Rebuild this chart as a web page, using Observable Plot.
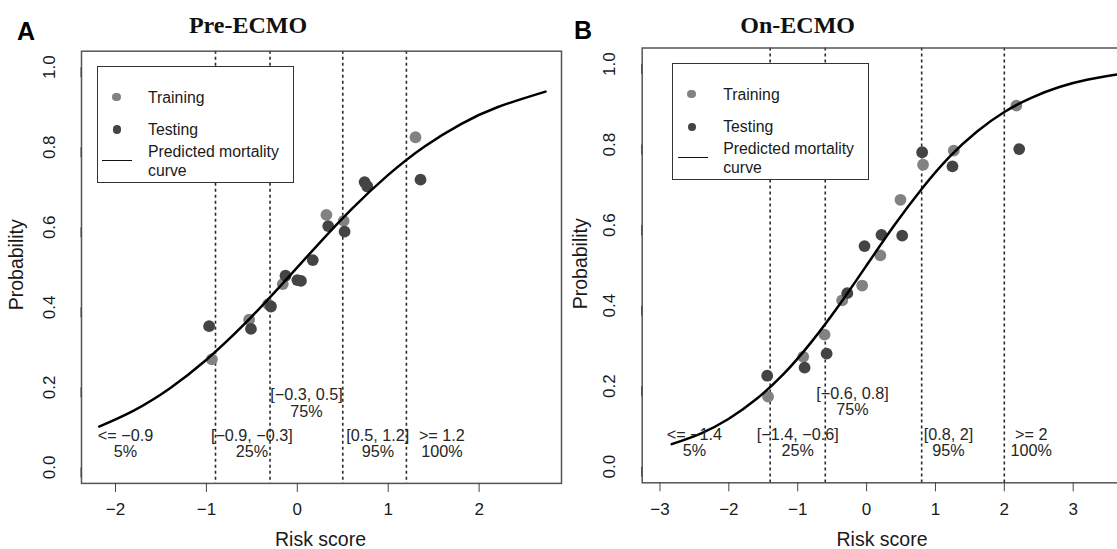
<!DOCTYPE html>
<html><head><meta charset="utf-8">
<script src="https://cdn.jsdelivr.net/npm/d3@7"></script>
<script src="https://cdn.jsdelivr.net/npm/@observablehq/plot@0.6"></script>
<style>
body{margin:0;background:#fff;}
#wrap{position:relative;width:1117px;height:549px;overflow:hidden;background:#fff;font-family:"Liberation Sans",Arial,sans-serif;color:#222;}
.abs{position:absolute;white-space:nowrap;line-height:1;}
.title{font-family:"Liberation Serif","Times New Roman",serif;font-weight:bold;font-size:24px;color:#111;text-align:center;width:240px;}
.letter{font-weight:bold;font-size:25px;color:#000;}
.axlab{font-size:19.5px;color:#1a1a1a;text-align:center;width:300px;}
.legend{position:absolute;box-sizing:border-box;border:1.3px solid #333;background:#fff;width:197px;height:117px;}
.legend .dot{position:absolute;width:8.5px;height:8.5px;border-radius:50%;}
.legend .txt{position:absolute;font-size:15.8px;line-height:1;white-space:nowrap;color:#1a1a1a;}
.legend .ln{position:absolute;height:0;width:30px;border-top:1.5px solid #111;}
svg{position:absolute;}
</style></head><body><div id="wrap"></div>
<script>
// ---------- data ----------
const panelTitles = ["Pre-ECMO", "On-ECMO"];
const panelLetters = ["A", "B"];
const seriesNames = ["Training", "Testing", "Predicted mortality\ncurve"];
const yTicks = [0, 0.2, 0.4, 0.6, 0.8, 1.0];
const xTicksA = [-2, -1, 0, 1, 2];
const xTicksB = [-3, -2, -1, 0, 1, 2, 3];

// Panel A (Pre-ECMO)
const trainAx = [1.30, 0.32, 0.51, -0.16, -0.32, -0.53, -0.94];
const trainAy = [0.825, 0.631, 0.616, 0.458, 0.408, 0.369, 0.270];
const testAx = [1.355, 0.74, 0.77, 0.34, 0.52, 0.17, -0.13, 0.0, 0.04, -0.29, -0.51, -0.97];
const testAy = [0.719, 0.713, 0.702, 0.603, 0.589, 0.518, 0.479, 0.468, 0.466, 0.402, 0.346, 0.353];
const curveAx = [-2.18, -1.8, -1.4, -1.0, -0.6, -0.2, 0.2, 0.6, 1.0, 1.4, 1.8, 2.2, 2.73];
const curveAy = [0.102, 0.142, 0.198, 0.269, 0.354, 0.450, 0.550, 0.646, 0.731, 0.802, 0.858, 0.900, 0.939];
const cutsA = [-0.9, -0.3, 0.5, 1.2];
const labelTextA = ["<= \u22120.9\n5%", "[\u22120.9, \u22120.3]\n25%", "[\u22120.3, 0.5]\n75%", "[0.5, 1.2]\n95%", ">= 1.2\n100%"];
const labelXA = [-1.89, -0.5, 0.1, 0.886, 1.59];
const labelYA = [0.06, 0.06, 0.16, 0.06, 0.06];

// Panel B (On-ECMO)
const trainBx = [0.82, 1.266, 2.175, 0.492, 0.20, -0.064, -0.354, -0.61, -0.92, -1.43];
const trainBy = [0.750, 0.785, 0.897, 0.663, 0.525, 0.450, 0.413, 0.328, 0.273, 0.174];
const testBx = [0.807, 1.247, 2.216, 0.517, 0.216, -0.03, -0.28, -0.58, -0.90, -1.443];
const testBy = [0.781, 0.746, 0.789, 0.574, 0.576, 0.548, 0.431, 0.281, 0.246, 0.226];
const curveBx = [-2.83, -2.4, -2.0, -1.6, -1.2, -0.8, -0.4, 0.0, 0.4, 0.8, 1.2, 1.6, 2.0, 2.4, 2.8, 3.2, 3.7];
const curveBy = [0.056, 0.083, 0.119, 0.168, 0.231, 0.310, 0.401, 0.500, 0.599, 0.690, 0.769, 0.832, 0.881, 0.917, 0.943, 0.961, 0.976];
const cutsB = [-1.4, -0.6, 0.8, 2];
const labelTextB = ["<= \u22121.4\n5%", "[\u22121.4, \u22120.6]\n25%", "[\u22120.6, 0.8]\n75%", "[0.8, 2]\n95%", ">= 2\n100%"];
const labelXB = [-2.50, -1.0, -0.205, 1.19, 2.39];
const labelYB = [0.06, 0.06, 0.16, 0.06, 0.06];

// ---------- style ----------
const trainColor = "#828282";
const testColor = "#444444";
const fontFam = "'Liberation Sans', Arial, sans-serif";
const zip = (xs, ys, extra) => xs.map((x, i) => ({x, y: ys[i], ...(extra ? {t: extra[i]} : {})}));
const fmtX = d => d < 0 ? "\u2212" + Math.abs(d) : String(d);

function panel(p) {
  return Plot.plot({
    width: p.width, height: 549,
    marginLeft: p.ml, marginRight: p.mr, marginTop: p.mt, marginBottom: p.mb,
    x: {domain: p.xDomain},
    y: {domain: [-0.04, 1.04]},
    style: {background: "transparent", maxWidth: "none", fontFamily: fontFam, left: p.left + "px", top: "0px", position: "absolute", overflow: "visible"},
    marks: [
      Plot.ruleX(p.cuts, {stroke: "#2a2a2a", strokeWidth: 1.6, strokeDasharray: "3,3"}),
      Plot.dot(zip(p.trainX, p.trainY), {x: "x", y: "y", r: 5.9, fill: trainColor}),
      Plot.dot(zip(p.testX, p.testY), {x: "x", y: "y", r: 5.9, fill: testColor}),
      Plot.line(zip(p.curveX, p.curveY), {x: "x", y: "y", curve: "natural", stroke: "#000", strokeWidth: 2.5}),
      Plot.text(zip(p.labX, p.labY, p.labT), {x: "x", y: "y", text: "t", fontSize: 16.2, lineHeight: 0.99, fill: "#262626", fontFamily: fontFam}),
      Plot.frame({stroke: "#555", strokeWidth: 1.5}),
      Plot.axisX({ticks: p.xTicks, tickSize: 9, tickPadding: 11, fontSize: 17, tickFormat: fmtX, label: null, stroke: "#444", color: "#1a1a1a", fontFamily: fontFam}),
      Plot.axisY({ticks: yTicks, tickSize: 10, tickPadding: 17, fontSize: 17, rotate: -90, textAnchor: "middle", lineAnchor: "bottom", tickFormat: d => d.toFixed(1), label: null, stroke: "#444", color: "#1a1a1a", fontFamily: fontFam})
    ]
  });
}

const wrap = document.getElementById("wrap");
wrap.appendChild(panel({
  left: 0, width: 580, ml: 81, mr: 19, mt: 50.7, mb: 66.1,
  xDomain: [-2.374, 2.906], xTicks: xTicksA, cuts: cutsA,
  trainX: trainAx, trainY: trainAy, testX: testAx, testY: testAy,
  curveX: curveAx, curveY: curveAy, labX: labelXA, labY: labelYA, labT: labelTextA
}));
wrap.appendChild(panel({
  left: 560, width: 582, ml: 81.7, mr: 20, mt: 47.5, mb: 66.7,
  xDomain: [-3.258, 3.716], xTicks: xTicksB, cuts: cutsB,
  trainX: trainBx, trainY: trainBy, testX: testBx, testY: testBy,
  curveX: curveBx, curveY: curveBy, labX: labelXB, labY: labelYB, labT: labelTextB
}));

function addText(cls, text, left, top, extraStyle) {
  const d = document.createElement("div");
  d.className = "abs " + cls;
  d.textContent = text;
  d.style.left = left + "px";
  d.style.top = top + "px";
  if (extraStyle) Object.assign(d.style, extraStyle);
  wrap.appendChild(d);
  return d;
}
// titles (center x, baseline ~33.3)
addText("title", panelTitles[0], 248 - 120, 13.2);
addText("title", panelTitles[1], 797.7 - 120, 13.2);
// panel letters
addText("letter", panelLetters[0], 17, 18.5);
addText("letter", panelLetters[1], 574, 18);
// axis labels
addText("axlab", "Risk score", 320.5 - 150, 529.5);
addText("axlab", "Risk score", 882 - 150, 529.5);
addText("axlab", "Probability", 17 - 150, 265 - 9.75, {transform: "rotate(-90deg)", transformOrigin: "50% 50%"});
addText("axlab", "Probability", 581 - 150, 264 - 9.75, {transform: "rotate(-90deg)", transformOrigin: "50% 50%"});

// legends
function legend(left, top) {
  const box = document.createElement("div");
  box.className = "legend";
  box.style.left = left + "px";
  box.style.top = top + "px";
  const dot = (cx, cy, c) => {
    const s = document.createElement("div");
    s.className = "dot"; s.style.background = c;
    s.style.left = (cx - 4.25) + "px"; s.style.top = (cy - 4.25) + "px";
    box.appendChild(s);
  };
  const txt = (t, x, baseline) => {
    const s = document.createElement("div");
    s.className = "txt"; s.textContent = t;
    s.style.left = x + "px"; s.style.top = (baseline - 0.8465 * 15.8) + "px";
    box.appendChild(s);
  };
  dot(18.4, 29.8, trainColor);
  dot(19.0, 62.5, testColor);
  const lines = seriesNames[2].split("\n");
  txt(seriesNames[0], 50, 36);
  txt(seriesNames[1], 50, 68.5);
  txt(lines[0], 50, 90.3);
  txt(lines[1], 50, 109);
  const ln = document.createElement("div");
  ln.className = "ln"; ln.style.left = "4.4px"; ln.style.top = "92.5px";
  box.appendChild(ln);
  wrap.appendChild(box);
}
legend(97, 66.2);
legend(672.2, 63.3);
</script>
</body></html>
